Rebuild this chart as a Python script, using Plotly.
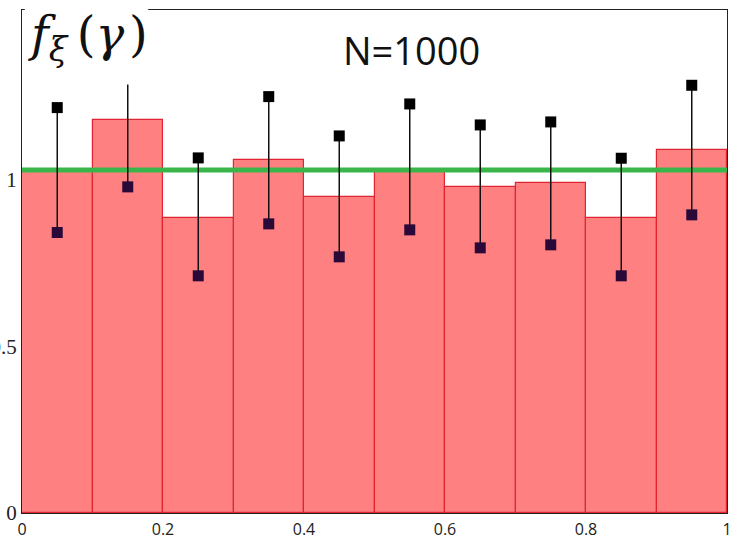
import plotly.graph_objects as go

bin_centers = [0.05, 0.15, 0.25, 0.35, 0.45, 0.55, 0.65, 0.75, 0.85, 0.95]
bar_heights = [1.025, 1.18, 0.887, 1.059, 0.948, 1.025, 0.980, 0.991, 0.886, 1.090]
upper_vals = [1.217, 1.31, 1.066, 1.250, 1.132, 1.228, 1.165, 1.174, 1.065, 1.284]
lower_vals = [0.842, 0.979, 0.712, 0.868, 0.769, 0.850, 0.796, 0.805, 0.712, 0.895]
ref_level = 1.03
x_ticks = [0, 0.2, 0.4, 0.6, 0.8, 1]
x_ticktext = ["0", "0.2", "0.4", "0.6", "0.8", "1"]
y_ticks = [0, 0.5, 1]
y_ticktext = ["0", "0.5", "1"]

fig = go.Figure()
fig.add_trace(go.Bar(
    x=bin_centers, y=bar_heights, width=0.1,
    marker=dict(color="#ff8080", line=dict(color="#e02530", width=1.2)),
    hoverinfo="skip", showlegend=False,
))

# green reference line
fig.add_trace(go.Scatter(
    x=[0, 1], y=[ref_level, ref_level], mode="lines",
    line=dict(color="#3ab54a", width=5), showlegend=False,
))

# error lines
ex, ey = [], []
for c, lo, hi in zip(bin_centers, lower_vals, upper_vals):
    ex += [c, c, None]
    ey += [lo, hi, None]
fig.add_trace(go.Scatter(x=ex, y=ey, mode="lines",
                         line=dict(color="#111111", width=1.5), showlegend=False))
fig.add_trace(go.Scatter(x=bin_centers, y=upper_vals, mode="markers",
                         marker=dict(symbol="square", size=11, color="#000000"),
                         showlegend=False))
fig.add_trace(go.Scatter(x=bin_centers, y=lower_vals, mode="markers",
                         marker=dict(symbol="square", size=11, color="#2a0838"),
                         showlegend=False))

# white box behind the y label image region
fig.add_shape(type="rect", xref="x", yref="paper",
              x0=0.004, x1=0.179, y0=0.852, y1=1.03,
              fillcolor="white", line=dict(width=0), layer="above")

fig.add_annotation(
    xref="x", yref="paper", x=0.006, y=1.012, xanchor="left", yanchor="top",
    text="<i>f</i><sub><i>ξ</i></sub>&#8201;(<i>γ</i>&#8202;)", showarrow=False,
    font=dict(family="DejaVu Serif", size=48, color="#111111"),
)
fig.add_annotation(
    xref="x", yref="paper", x=0.552, y=0.92, xanchor="center", yanchor="middle",
    text="N=1000", showarrow=False,
    font=dict(family="Open Sans", size=38, color="#111111"),
)

fig.update_layout(
    width=733, height=540,
    margin=dict(l=22, r=6, t=10, b=27, autoexpand=False),
    paper_bgcolor="white", plot_bgcolor="white",
    bargap=0,
    xaxis=dict(range=[0, 1], tickvals=x_ticks, ticktext=x_ticktext,
               showgrid=False, zeroline=False, showline=True, mirror=True,
               linecolor="#222222", linewidth=1.2, ticks="inside", ticklen=5,
               tickcolor="#222222", layer="below traces", automargin=False,
               ticklabelstandoff=2,
               tickfont=dict(family="Open Sans", size=16, color="#222222")),
    yaxis=dict(range=[0, 1.51], tickvals=y_ticks, ticktext=y_ticktext,
               showgrid=False, zeroline=False, showline=True, mirror=True,
               linecolor="#222222", linewidth=1.2, ticks="", layer="below traces",
               automargin=False,
               tickfont=dict(family="Liberation Serif", size=21, color="#222222")),
)

fig.write_html("out.html")
